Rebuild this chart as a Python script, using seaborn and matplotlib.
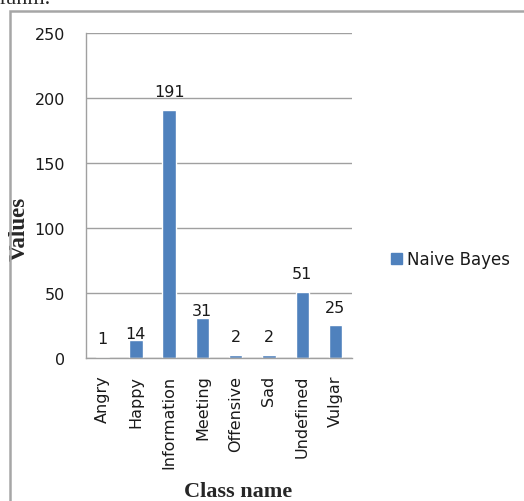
import pandas as pd
import matplotlib
matplotlib.use('Agg')
import matplotlib.pyplot as plt
import matplotlib.patches as mpatches
import seaborn as sns

classes = ['Angry', 'Happy', 'Information', 'Meeting', 'Offensive', 'Sad', 'Undefined', 'Vulgar']
values = [1, 14, 191, 31, 2, 2, 51, 25]
series_name = 'Naive Bayes'

df = pd.DataFrame({'Class name': classes, 'Values': values})

sns.set_style('white')
plt.rcParams['font.family'] = ['DejaVu Sans']

fig = plt.figure(figsize=(5.24, 5.02), dpi=100)
ax = fig.add_axes([0.164, 0.285, 0.508, 0.647])

bar_color = '#4F81BD'
text_color = '#1a1a1a'
sns.barplot(data=df, x='Class name', y='Values', color=bar_color, width=0.4,
            saturation=1, ax=ax)

# value labels above the bars (two of them sit lower in the original)
label_pad = {'Happy': 1, 'Meeting': 2}
for i, (c, v) in enumerate(zip(classes, values)):
    pad = label_pad.get(c, 10)
    ax.annotate(str(v), (i, v), xytext=(0, pad), textcoords='offset points',
                ha='center', va='baseline', fontsize=11.5, color=text_color)

grid_color = '#A0A0A0'
ax.set_ylim(0, 250)
ax.set_yticks([0, 50, 100, 150, 200, 250])
ax.yaxis.grid(True, color=grid_color, linewidth=1)
ax.set_axisbelow(True)
ax.set_xlim(-0.5, len(classes) - 0.5)

for s in ['top', 'right']:
    ax.spines[s].set_visible(False)
for s in ['left', 'bottom']:
    ax.spines[s].set_color(grid_color)
    ax.spines[s].set_linewidth(1)

# Excel style: category ticks between the bars
ax.set_xticks([i - 0.5 for i in range(len(classes) + 1)], minor=True)
ax.tick_params(axis='x', which='major', length=0, pad=12, labelsize=11.5, labelrotation=90,
               labelcolor=text_color)
ax.tick_params(axis='x', which='minor', length=5, color=grid_color, width=1)
ax.tick_params(axis='y', length=7, color=grid_color, width=1, labelsize=11.5, pad=8,
               labelcolor=text_color)

ax.set_xlabel('Class name', fontsize=16, fontweight='bold', family='Liberation Serif')
ax.set_ylabel('Values', fontsize=16.5, fontweight='bold', family='Liberation Serif')
ax.xaxis.set_label_coords(0.571, -0.38)
ax.yaxis.set_label_coords(-0.21, 0.40)

# legend to the right
handle = mpatches.Patch(color=bar_color, label=series_name)
fig.legend(handles=[handle], loc='center left', bbox_to_anchor=(0.717, 0.482),
           frameon=False, fontsize=12, handlelength=0.65, handleheight=0.65, handletextpad=0.3,
           labelcolor=text_color)

# chart frame
frame = mpatches.Rectangle((10 / 524, -0.05), 1.1, 1 - 12 / 502 + 0.05, transform=fig.transFigure,
                           fill=False, edgecolor='#A6A6A6', linewidth=1.8, clip_on=False)
fig.patches.append(frame)

# fragment of text cut at the top
fig.text(0.0, 1 - 4.5 / 502, 'ranm.', family='Liberation Serif', fontsize=16, ha='left', va='baseline')

fig.savefig('out.png', dpi=100)
